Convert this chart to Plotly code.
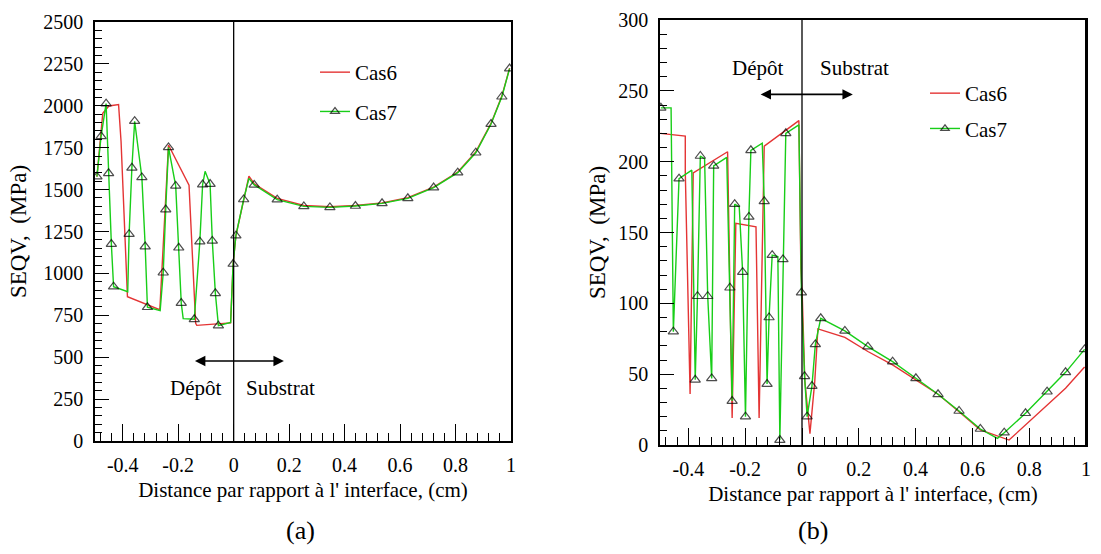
import plotly.graph_objects as go

# ---------------- Panel (a) ----------------
A_CAS6_X = [-0.493, -0.472, -0.450, -0.415, -0.406, -0.383, -0.269, -0.266, -0.235, -0.161, -0.137,
            -0.133, -0.011, -0.002, 0.008, 0.036, 0.055, 0.074, 0.157, 0.253, 0.347, 0.439, 0.535,
            0.628, 0.721, 0.808, 0.873, 0.928, 0.967, 0.995]
A_CAS6_Y = [1577, 1955, 1999, 2008, 1786, 861, 785, 790, 1766, 1527, 702,
            690, 705, 1056, 1225, 1445, 1580, 1535, 1448, 1405, 1398, 1405, 1420,
            1452, 1515, 1605, 1725, 1895, 2058, 2225]

A_CAS7_X = [-0.493, -0.478, -0.460, -0.451, -0.441, -0.433, -0.382, -0.377, -0.367, -0.357,
            -0.331, -0.319, -0.311, -0.265, -0.254, -0.245, -0.235, -0.209, -0.198, -0.189,
            -0.182, -0.142, -0.122, -0.112, -0.103, -0.085, -0.077, -0.066, -0.055, -0.011,
            -0.002, 0.008, 0.036, 0.055, 0.074, 0.157, 0.253, 0.347, 0.439, 0.535,
            0.628, 0.721, 0.808, 0.873, 0.928, 0.967, 0.995]
A_CAS7_Y = [1577, 1818, 2013, 1597, 1175, 921, 891, 1234, 1630, 1908,
            1573, 1160, 798, 778, 1004, 1381, 1752, 1522, 1153, 823,
            730, 726, 1189, 1530, 1609, 1533, 1194, 881, 688, 708,
            1056, 1225, 1441, 1567, 1528, 1440, 1400, 1394, 1402, 1418,
            1448, 1512, 1601, 1720, 1891, 2054, 2222]
# 1 = a sampled point carrying a symbol, 0 = plain polyline vertex
A_CAS7_SAMPLED = [1, 1, 1, 1, 1, 1, 0, 1, 1, 1,
                  1, 1, 1, 0, 1, 1, 1, 1, 1, 1,
                  0, 1, 1, 1, 0, 1, 1, 1, 1, 0,
                  1, 1, 1, 0, 1, 1, 1, 1, 1, 1,
                  1, 1, 1, 1, 1, 1, 1]

# ---------------- Panel (b) ----------------
B_CAS6_X = [-0.499, -0.411, -0.411, -0.394, -0.383, -0.262, -0.246, -0.233, -0.162, -0.151,
            -0.133, -0.011, -0.004, 0.001, 0.010, 0.028, 0.045, 0.056, 0.151, 0.232,
            0.319, 0.401, 0.479, 0.553, 0.628, 0.729, 0.787, 0.863, 0.928, 0.995]
B_CAS6_Y = [220, 218, 193, 36, 192, 207, 19, 156.5, 154, 19,
            211, 229, 125, 105, 45, 8, 45, 82, 76, 66,
            56.5, 46, 35.8, 23.5, 10.6, 3.5, 14, 28, 40, 55]

B_CAS7_X = [-0.497, -0.461, -0.453, -0.433, -0.388, -0.376, -0.368, -0.358, -0.343, -0.332,
            -0.318, -0.311, -0.265, -0.254, -0.246, -0.237, -0.221, -0.209, -0.199, -0.187,
            -0.180, -0.140, -0.133, -0.123, -0.116, -0.105, -0.085, -0.078, -0.067, -0.057,
            -0.011, -0.002, 0.009, 0.018, 0.035, 0.047, 0.066, 0.151, 0.232, 0.319,
            0.401, 0.479, 0.553, 0.628, 0.688, 0.712, 0.787, 0.863, 0.928, 0.995]
B_CAS7_Y = [238, 238, 80, 188, 194, 46, 105, 204, 202, 105,
            47, 197, 203, 111, 31, 170, 168, 122, 20, 161,
            208, 213, 172, 43, 90, 134, 133, 3.5, 131, 220,
            226, 107.5, 48.5, 20, 41.6, 71, 89.4, 80.5, 69.4, 58.8,
            47.1, 35.8, 24, 11.3, 4.7, 8.7, 22.4, 37.6, 51.3, 67.5]
B_CAS7_SAMPLED = [1, 0, 1, 1, 0, 1, 1, 1, 0, 1,
                  1, 1, 0, 1, 1, 1, 0, 1, 1, 1,
                  1, 0, 1, 1, 1, 1, 0, 1, 1, 1,
                  0, 1, 1, 1, 1, 1, 1, 1, 1, 1,
                  1, 1, 1, 1, 0, 1, 1, 1, 1, 1]

X_TICKS = [-0.4, -0.2, 0, 0.2, 0.4, 0.6, 0.8, 1]
X_TICKTEXT = ["-0.4", "-0.2", "0", "0.2", "0.4", "0.6", "0.8", "1"]
LEGEND_NAMES = ["Cas6", "Cas7"]

RED = "rgb(228,52,52)"
GREEN = "rgb(24,206,24)"
FONT = "Liberation Serif, Times New Roman, serif"
W, H = 1101, 554
B_LEFT, B_RIGHT, B_TOP, B_BOTTOM = 660, 1086, 20, 445

fig = go.Figure()


def add_panel(xa, ya, leg, x6, y6, x7, y7, sampled):
    fig.add_trace(go.Scatter(
        x=x6, y=y6, mode="lines", name=LEGEND_NAMES[0], xaxis=xa, yaxis=ya,
        legend=leg, legendgroup=leg + "6",
        line=dict(color=RED, width=1.4)))
    fig.add_trace(go.Scatter(
        x=x7, y=y7, mode="lines+markers", name=LEGEND_NAMES[1], xaxis=xa, yaxis=ya,
        legend=leg, legendgroup=leg + "7",
        line=dict(color=GREEN, width=1.4),
        marker=dict(symbol="triangle-up-open", color="black",
                    size=[9 if s else 0 for s in sampled],
                    line=dict(width=1.2, color="black"))))


add_panel("x", "y", "legend", A_CAS6_X, A_CAS6_Y, A_CAS7_X, A_CAS7_Y, A_CAS7_SAMPLED)
add_panel("x2", "y2", "legend2", B_CAS6_X, B_CAS6_Y, B_CAS7_X, B_CAS7_Y, B_CAS7_SAMPLED)

xtitle = "Distance par rapport à l' interface, (cm)"
ytitle = "SEQV,\u00a0\u00a0(MPa)"


def xaxis(dom, anchor, standoff):
    return dict(domain=dom, anchor=anchor, range=[-0.5, 1], tickmode="array",
                tickvals=X_TICKS, ticktext=X_TICKTEXT, ticks="inside", ticklen=17,
                tickwidth=1.3, tickcolor="black",
                minor=dict(ticks="inside", ticklen=8, tickwidth=1, tickcolor="black",
                           tickmode="linear", tick0=0, dtick=0.04),
                showline=True, linecolor="black", linewidth=1.6, mirror=True,
                showgrid=False, zeroline=False, automargin=False,
                ticklabelstandoff=5,
                tickfont=dict(family=FONT, size=20, color="black"),
                title=dict(text=xtitle, font=dict(family=FONT, size=21, color="black"),
                           standoff=standoff))


def yaxis(dom, anchor, rng, dt, mdt, standoff):
    return dict(domain=dom, anchor=anchor, range=rng, tickmode="linear", tick0=0, dtick=dt,
                ticks="inside", ticklen=14, tickwidth=1.3, tickcolor="black",
                minor=dict(ticks="inside", ticklen=7, tickwidth=1, tickcolor="black",
                           tickmode="linear", tick0=0, dtick=mdt),
                showline=True, linecolor="black", linewidth=1.6, mirror=True,
                showgrid=False, zeroline=False, automargin=False,
                ticklabelstandoff=6,
                tickfont=dict(family=FONT, size=20, color="black"),
                title=dict(text=ytitle, font=dict(family=FONT, size=23, color="black"),
                           standoff=standoff))


fig.update_layout(
    width=W, height=H, template="none",
    margin=dict(l=0, r=0, t=0, b=0),
    paper_bgcolor="white", plot_bgcolor="white",
    showlegend=True,
    xaxis=xaxis([95 / W, 511 / W], "y", 8),
    yaxis=yaxis([1 - 441 / H, 1 - 22 / H], "x", [0, 2500], 250, 50, 10),
    xaxis2=xaxis([B_LEFT / W, B_RIGHT / W], "y2", 8),
    yaxis2=yaxis([1 - B_BOTTOM / H, 1 - B_TOP / H], "x2", [0, 300], 50, 10, 6),
    legend=dict(x=315 / W, y=1 - 52 / H, xanchor="left", yanchor="top",
                bgcolor="rgba(0,0,0,0)", borderwidth=0, traceorder="grouped",
                tracegroupgap=9, font=dict(family=FONT, size=21, color="black")),
    legend2=dict(x=925 / W, y=1 - 73 / H, xanchor="left", yanchor="top",
                 bgcolor="rgba(0,0,0,0)", borderwidth=0, traceorder="grouped",
                 tracegroupgap=5, font=dict(family=FONT, size=21, color="black")),
)

# interface line at x = 0
for xr, yr in (("x", "y"), ("x2", "y2")):
    fig.add_shape(type="line", xref=xr, yref=yr + " domain", x0=0, x1=0, y0=0, y1=1,
                  line=dict(color="black", width=1.3))

# explicit right-hand frame edge of panel (b), in paper coordinates
fig.add_shape(type="line", xref="paper", yref="paper", layer="above",
              x0=B_RIGHT / W, x1=B_RIGHT / W, y0=1 - B_BOTTOM / H, y1=1 - B_TOP / H,
              line=dict(color="black", width=2))

# Dépôt / Substrat arrows and labels
ARROWS = [("x", "y", -0.145, 0.181, 477, 316, -0.137, 0.169),
          ("x2", "y2", -0.151, 0.179, 247.5, 266, -0.155, 0.184)]
for xr, yr, xa0, xa1, ay, ty, tx0, tx1 in ARROWS:
    fig.add_annotation(xref=xr, yref=yr, axref=xr, ayref=yr, x=xa1, y=ay, ax=xa0, ay=ay,
                       text="", showarrow=True, arrowside="end+start", arrowhead=2,
                       arrowsize=1.3, arrowwidth=1.6, arrowcolor="black")
    fig.add_annotation(xref=xr, yref=yr, x=tx0, y=ty, text="Dépôt", showarrow=False,
                       font=dict(family=FONT, size=21, color="black"))
    fig.add_annotation(xref=xr, yref=yr, x=tx1, y=ty, text="Substrat", showarrow=False,
                       font=dict(family=FONT, size=21, color="black"))

# panel captions
for cx, lab in ((300, "(a)"), (813, "(b)")):
    fig.add_annotation(xref="paper", yref="paper", x=cx / W, y=1 - 530 / H, text=lab,
                       xanchor="center", yanchor="middle",
                       showarrow=False, font=dict(family=FONT, size=26, color="black"))

fig.write_html("out.html", config={"displayModeBar": False},
               post_script="document.documentElement.style.overflow='hidden';"
                           "document.documentElement.style.margin='0px';"
                           "document.body.style.margin='0px';"
                           "document.body.style.padding='0px';"
                           "document.body.style.overflow='hidden';")
